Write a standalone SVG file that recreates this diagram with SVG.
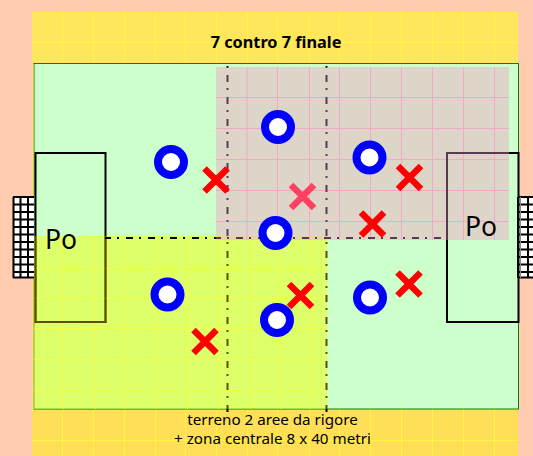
<svg xmlns="http://www.w3.org/2000/svg" width="533" height="456" viewBox="0 0 533 456">
<style>
.gy{stroke:#FFFF30;stroke-width:1;fill:none;stroke-opacity:.7}
.gp{stroke:#F2A8C6;stroke-width:1;fill:none}
.box{fill:none;stroke:#000;stroke-width:2}
.dv{fill:none;stroke-width:2;stroke-dasharray:7 6 2 7;stroke-dashoffset:12}
.dh{fill:none;stroke-width:2;stroke-dasharray:7 6 2 7;stroke-dashoffset:1}
.net{fill:none;stroke:#000;stroke-width:2}
.o{fill:#fff;stroke:#0000FF;stroke-width:8}
.x{fill:none;stroke:#F00;stroke-width:6.5}
text{font-family:"Noto Sans","DejaVu Sans",sans-serif;fill:#000}
.cap{font-size:15.2px;text-anchor:middle}
.po{font-size:26.500px}
</style>
<defs>
<g id="cross"><path d="M-11.5-11.5L11.5 11.5M-11.5 11.5L11.5-11.5"/></g>
<linearGradient id="lv" gradientUnits="userSpaceOnUse" x1="0" y1="0" x2="0" y2="456">
<stop offset=".1469" stop-color="#000"/><stop offset=".1469" stop-color="#5A3A50"/>
<stop offset=".5175" stop-color="#5A3A50"/><stop offset=".5175" stop-color="#5A5000"/>
<stop offset=".8969" stop-color="#5A5000"/><stop offset=".8969" stop-color="#000"/>
</linearGradient>
<linearGradient id="lh" gradientUnits="userSpaceOnUse" x1="0" y1="0" x2="533" y2="0">
<stop offset=".4053" stop-color="#000"/><stop offset=".4053" stop-color="#5A3A50"/>
</linearGradient>
</defs>
<rect width="533" height="456" fill="#FFCCAF"/>
<g id="band">
<rect x="32" y="12" width="486" height="52" fill="#FFE65C"/>
<rect x="32" y="409" width="486" height="47" fill="#FFDF58"/>
<path class="gy" d="M62.5 12V64M93.500 12V64M124.500 12V64M155.500 12V64M185.500 12V64M216.500 12V64M247.500 12V64M277.500 12V64M309.500 12V64M339.500 12V64M370.500 12V64M401.500 12V64M432.500 12V64M463.500 12V64M494.500 12V64M32 42.500H518"/>
<path class="gy" d="M62.500 409V456M93.500 409V456M124.500 409V456M155.500 409V456M185.500 409V456M216.500 409V456M247.500 409V456M277.500 409V456M309.500 409V456M339.500 409V456M370.500 409V456M401.500 409V456M432.500 409V456M463.500 409V456M494.500 409V456M32 440.500H518"/>
</g>
<rect id="field" x="34" y="63.500" width="484.500" height="345.500" fill="#CCFFCC" stroke="#0A800A" stroke-width="1"/>
<path d="M33 64V409" stroke="#FFE65C" stroke-width="1"/>
<g id="goal-left"><rect x="13" y="197" width="21" height="81" fill="#fff"/><path class="net" d="M13 197H34M13 204.500H34M13 212H34M13 219.500H34M13 227H34M13 234.500H34M13 242H34M13 249.500H34M13 257H34M13 264.500H34M13 272H34M13 277.500H34M13.500 197V278M20.500 197V278M28 197V278"/></g>
<g id="goal-right"><rect x="518" y="197" width="15" height="81" fill="#fff"/><path class="net" d="M518 197H533M518 204.500H533M518 212H533M518 219.500H533M518 227H533M518 234.500H533M518 242H533M518 249.500H533M518 257H533M518 264.500H533M518 272H533M518 277.500H533M518 197V278M528 197V278"/><path d="M520.500 197V278" stroke="#888" stroke-width="1"/></g>
<g id="box-left"><rect class="box" x="35.500" y="153" width="70" height="169"/></g>
<g id="box-right"><rect class="box" x="447" y="153" width="71.500" height="169"/></g>
<g id="zone-yellow">
<rect x="34" y="236" width="293" height="173" fill="#F0FF00" fill-opacity=".48"/>
<path class="gy" d="M63.500 236V409M95.500 236V409M125.500 236V409M156.500 236V409M187.500 236V409M218.500 236V409M250.500 236V409M280.500 236V409M310.500 236V409M34 268.500H327M34 298.500H327M34 328.500H327M34 359.500H327M34 390.500H327"/>
</g>
<g id="zone-pink">
<rect x="216" y="67" width="293" height="173" fill="#EBB4C5" fill-opacity=".55"/>
<path class="gp" d="M247 67V240M277.500 67V240M309.500 67V240M339.500 67V240M370.500 67V240M401.500 67V240M432.500 67V240M463.500 67V240M494.500 67V240M216 97.500H509M216 128.500H509M216 159.500H509M216 190.500H509M216 221.500H509"/>
</g>
<path fill="none" stroke="#5A5000" stroke-width="2" d="M35.500 236V322H105.500V236"/>
<path fill="none" stroke="#5A3A50" stroke-width="2" d="M447 240V153H509"/>
<g id="connectors">
<path class="dv" stroke="url(#lv)" d="M227.500 65V412"/>
<path class="dv" stroke="url(#lv)" d="M326.500 65V412"/>
<path class="dh" stroke="url(#lh)" d="M105 238H447"/>
</g>
<g id="po-labels">
<text class="po" x="45" y="249">Po</text>
<text class="po" x="465" y="236">Po</text>
</g>
<g id="p1"><circle class="o" cx="171" cy="162" r="13"/></g>
<g id="p2"><circle class="o" cx="278" cy="127" r="13"/></g>
<g id="p3"><circle class="o" cx="369.500" cy="157.500" r="13"/></g>
<g id="p4"><circle class="o" cx="275.500" cy="233" r="13"/></g>
<g id="p5"><circle class="o" cx="167.500" cy="294.500" r="13"/></g>
<g id="p6"><circle class="o" cx="277" cy="320" r="13"/></g>
<g id="p7"><circle class="o" cx="370" cy="297.500" r="13"/></g>
<g id="x1" class="x"><use href="#cross" x="216" y="180"/></g>
<g id="x2" class="x"><use href="#cross" x="409.500" y="177.500"/></g>
<g id="x3" class="x"><use href="#cross" x="372.500" y="224"/></g>
<g id="x4" class="x" style="stroke:#FF4060"><use href="#cross" x="302.500" y="196.500"/></g>
<g id="x5" class="x"><use href="#cross" x="300.500" y="295.500"/></g>
<g id="x6" class="x"><use href="#cross" x="409" y="284"/></g>
<g id="x7" class="x"><use href="#cross" x="205" y="341.500"/></g>
<g id="labels">
<text x="276" y="48" font-weight="700" font-size="16.300" text-anchor="middle">7 contro 7 finale</text>
<text class="cap" x="272.500" y="425">terreno 2 aree da rigore</text>
<text class="cap" x="272.500" y="444">+ zona centrale 8 x 40 metri</text>
</g>
</svg>
